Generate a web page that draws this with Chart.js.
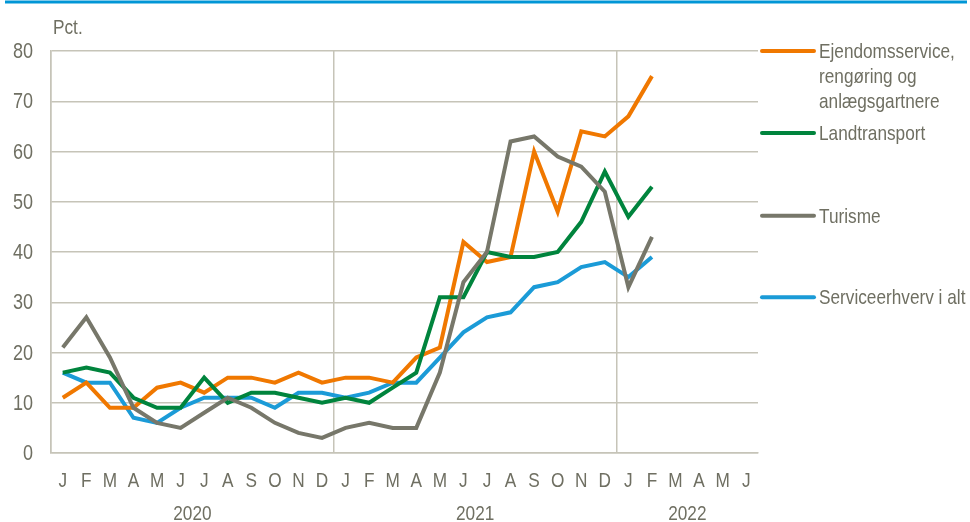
<!DOCTYPE html>
<html>
<head>
<meta charset="utf-8">
<script src="https://cdn.jsdelivr.net/npm/chart.js@4.4.1/dist/chart.umd.min.js"></script>
<style>
  html, body { margin: 0; padding: 0; background: #fff; }
  #wrap { width: 970px; height: 522px; position: relative; }
</style>
</head>
<body>
<div id="wrap"><canvas id="chart" width="970" height="522"></canvas></div>
<script>
// ---------- data ----------
const months = ['J','F','M','A','M','J','J','A','S','O','N','D',
                'J','F','M','A','M','J','J','A','S','O','N','D',
                'J','F','M','A','M','J'];
const years = ['2020', '2021', '2022'];
const yTicks = [0, 10, 20, 30, 40, 50, 60, 70, 80];

const ejendomsservice = [11,14,9,9,13,14,12,15,15,14,16,14, 15,15,14,19,21,42,38,39,60,48,64,63, 67,75];
const landtransport   = [16,17,16,11,9,9,15,10,12,12,11,10, 11,10,13,16,31,31,40,39,39,40,46,56, 47,53];
const turisme         = [21,27,19,9,6,5,8,11,9,6,4,3, 5,6,5,5,16,34,40,62,63,59,57,52, 33,43];
const serviceIAlt     = [16,14,14,7,6,9,11,11,11,9,12,12, 11,12,14,14,19,24,27,28,33,34,37,38, 35,39];

const seriesNames = [['Ejendomsservice,', 'rengøring og', 'anlægsgartnere'], ['Landtransport'], ['Turisme'], ['Serviceerhverv i alt']];
const legendValues = [80, 63.7, 47.2, 31]; // where each legend entry sits on the y axis

const ORANGE = '#F07800', GREEN = '#00843D', GREY = '#77776A', BLUE = '#1B9BD7';
const TEXT = '#6F6F62', GRID = '#C6C4B8';
const FONT = '"Liberation Sans", Arial, sans-serif';
const NARROW = 0.82; // reference uses a condensed face; squeeze the regular one

function narrowText(ctx, t, x, y, size, align) {
  ctx.save();
  ctx.font = size + 'px ' + FONT;
  ctx.textAlign = align;
  ctx.textBaseline = 'middle';
  ctx.translate(x, y);
  ctx.scale(NARROW, 1);
  ctx.fillText(t, 0, 0);
  ctx.restore();
}

// ---------- extra drawing: tick labels, legend, unit, year labels, top rule ----------
const decorations = {
  id: 'decorations',
  afterDraw(chart) {
    const ctx = chart.ctx;
    const x = chart.scales.x, y = chart.scales.y;
    ctx.save();
    // top rule
    ctx.strokeStyle = '#0096D6';
    ctx.lineWidth = 3;
    ctx.beginPath(); ctx.moveTo(5, 2); ctx.lineTo(967, 2); ctx.stroke();

    ctx.fillStyle = TEXT;
    narrowText(ctx, 'Pct.', 53, 28, 21, 'left');

    // axis labels
    yTicks.forEach(v => narrowText(ctx, String(v), 33, y.getPixelForValue(v) + 1, 22, 'right'));
    months.forEach((m, i) => narrowText(ctx, m, x.getPixelForValue(i), 481, 21, 'center'));

    // year labels centred under each 12-month block
    years.forEach((yr, i) => {
      const a = x.getPixelForValue(i * 12);
      const b = x.getPixelForValue(Math.min(i * 12 + 11, months.length - 1));
      narrowText(ctx, yr, (a + b) / 2, 514, 21, 'center');
    });

    // legend
    const colors = [ORANGE, GREEN, GREY, BLUE];
    seriesNames.forEach((lines, i) => {
      const py = y.getPixelForValue(legendValues[i]);
      ctx.strokeStyle = colors[i];
      ctx.lineWidth = 4;
      ctx.lineCap = 'round';
      ctx.beginPath(); ctx.moveTo(762, py); ctx.lineTo(814, py); ctx.stroke();
      lines.forEach((t, k) => narrowText(ctx, t, 819, py + 1 + k * 25, 21, 'left'));
    });
    ctx.restore();
  }
};

function line(label, data, color) {
  return { label, data, borderColor: color, backgroundColor: color, borderWidth: 4,
           pointRadius: 0, tension: 0, fill: false, borderJoinStyle: 'miter' };
}

new Chart(document.getElementById('chart'), {
  type: 'line',
  data: {
    labels: months,
    datasets: [
      line('Turisme', turisme, GREY),
      line('Landtransport', landtransport, GREEN),
      line('Ejendomsservice, rengøring og anlægsgartnere', ejendomsservice, ORANGE),
      line('Serviceerhverv i alt', serviceIAlt, BLUE)
    ]
  },
  options: {
    responsive: false,
    animation: false,
    layout: { padding: { left: 0, right: 212, top: 51, bottom: 0 } },
    plugins: { legend: { display: false }, tooltip: { enabled: false } },
    scales: {
      x: {
        offset: true,
        grid: {
          offset: true,
          drawTicks: false,
          color: (c) => (c.index % 12 === 0 ? GRID : 'rgba(0,0,0,0)'),
          lineWidth: 1.5
        },
        border: { display: true, color: GRID, width: 1.5 },
        ticks: { display: false, autoSkip: false },
        afterFit: (s) => { s.height = 522 - 453; }
      },
      y: {
        min: 0, max: 80,
        afterBuildTicks: (s) => { s.ticks = yTicks.map(v => ({ value: v })); },
        grid: { drawTicks: false, color: GRID, lineWidth: 1.5 },
        border: { display: true, color: GRID, width: 1.5 },
        ticks: { display: false },
        afterFit: (s) => { s.width = 51; }
      }
    }
  },
  plugins: [decorations]
});
</script>
</body>
</html>
